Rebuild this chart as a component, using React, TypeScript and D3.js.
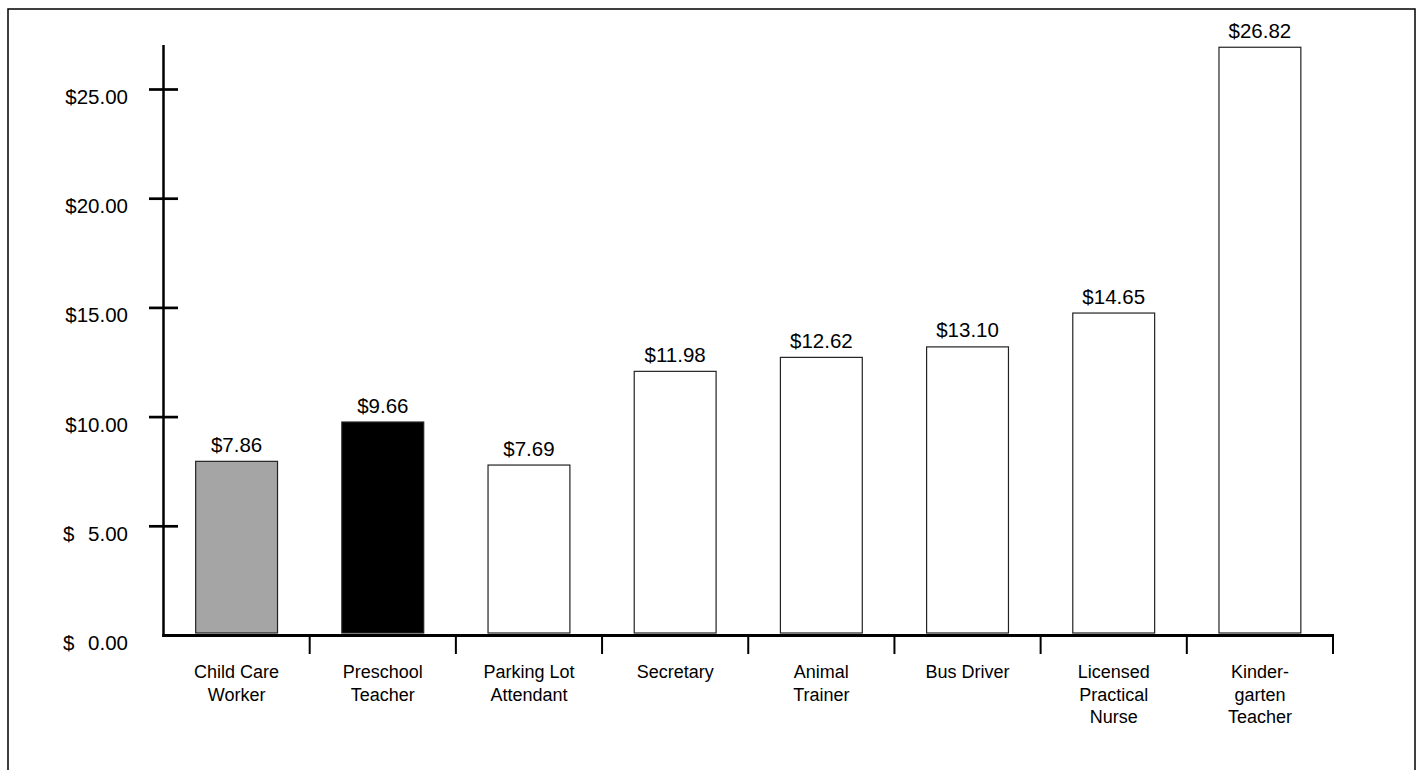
import React from "react";
import * as d3 from "d3";

const categories = [
  "Child Care Worker",
  "Preschool Teacher",
  "Parking Lot Attendant",
  "Secretary",
  "Animal Trainer",
  "Bus Driver",
  "Licensed Practical Nurse",
  "Kindergarten Teacher",
];
const categoryLines = [
  ["Child Care", "Worker"],
  ["Preschool", "Teacher"],
  ["Parking Lot", "Attendant"],
  ["Secretary"],
  ["Animal", "Trainer"],
  ["Bus Driver"],
  ["Licensed", "Practical", "Nurse"],
  ["Kinder-", "garten", "Teacher"],
];
const wages = [7.86, 9.66, 7.69, 11.98, 12.62, 13.1, 14.65, 26.82];
const barFills = ["#a5a5a5", "#000000", "#ffffff", "#ffffff", "#ffffff", "#ffffff", "#ffffff", "#ffffff"];
const yTicks = [0, 5, 10, 15, 20, 25];

const W = 1423;
const H = 770;
const FONT = "'Liberation Sans', Arial, Helvetica, sans-serif";

export default function App() {
  const x = d3.scaleBand<string>().domain(categories).range([163.5, 1333]).padding(0);
  const y = d3.scaleLinear().domain([0, 25]).range([635.5, 89.5]);
  const barW = x.bandwidth() * 0.56;
  const lift = 2.5; // bars sit just on top of the thick axis line
  const money = d3.format(".2f");

  return (
    <svg width={W} height={H} style={{ position: "absolute", left: 0, top: 0, background: "#fff" }} fontFamily={FONT}>
      {/* frame */}
      <rect x={8} y={9} width={1407} height={H + 20} fill="none" stroke="#000" strokeWidth={1.5} />

      {/* bars */}
      {categories.map((c, i) => {
        const cx = (x(c) ?? 0) + x.bandwidth() / 2;
        const top = y(wages[i]) - lift;
        const bottom = y(0) - lift;
        return (
          <g key={c}>
            <rect
              x={cx - barW / 2}
              y={top}
              width={barW}
              height={bottom - top}
              fill={barFills[i]}
              stroke="#222"
              strokeWidth={1.2}
            />
            <text x={cx} y={top - 9.5} textAnchor="middle" fontSize={20.5} fill="#000">
              ${money(wages[i])}
            </text>
          </g>
        );
      })}

      {/* y axis */}
      <line x1={163.5} x2={163.5} y1={45} y2={637} stroke="#000" strokeWidth={2.5} />
      {yTicks.map((t) => (
        <g key={t}>
          {t > 0 && <line x1={149} x2={178} y1={y(t)} y2={y(t)} stroke="#000" strokeWidth={2.7} />}
          {t < 10 && (
            <text x={63} y={y(t) + 14.5} fontSize={20.5} fill="#000">$</text>
          )}
          <text x={128} y={y(t) + 14.5} fontSize={20.5} textAnchor="end" fill="#000">
            {t < 10 ? money(t) : "$" + money(t)}
          </text>
        </g>
      ))}

      {/* x axis */}
      <line x1={162.3} x2={1334} y1={y(0)} y2={y(0)} stroke="#000" strokeWidth={3.2} />
      {categories.map((c) => {
        const bx = (x(c) ?? 0) + x.bandwidth();
        return <line key={"t" + c} x1={bx} x2={bx} y1={y(0)} y2={654} stroke="#000" strokeWidth={2} />;
      })}
      {categories.map((c, i) => {
        const cx = (x(c) ?? 0) + x.bandwidth() / 2;
        return (
          <text key={"l" + c} textAnchor="middle" fontSize={18} fill="#000">
            {categoryLines[i].map((ln, k) => (
              <tspan key={k} x={cx} y={678 + k * 22.6}>
                {ln}
              </tspan>
            ))}
          </text>
        );
      })}
    </svg>
  );
}
